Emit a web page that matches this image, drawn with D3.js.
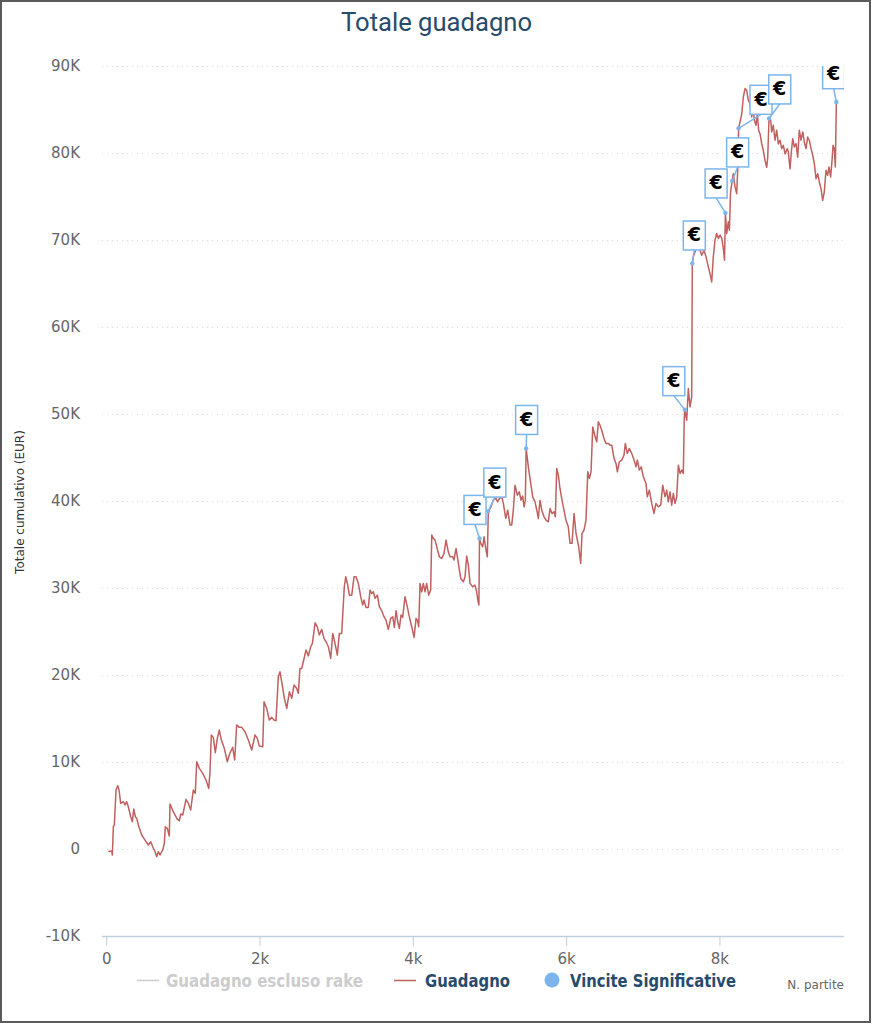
<!DOCTYPE html>
<html>
<head>
<meta charset="utf-8">
<script src="https://cdn.jsdelivr.net/npm/d3@7"></script>
<style>
  body { margin: 0; background: #fff; }
  text { font-family: "DejaVu Sans", sans-serif; }
</style>
</head>
<body>
<div id="my_dataviz"></div>
<script>

// cumulative profit
var games = [
  27, 72, 80, 93, 106, 128, 150, 167, 189, 223, 245, 267, 288, 320, 341, 359, 380, 398, 419, 463,
  506, 549, 581, 607, 637, 659, 680, 702, 737, 758, 771, 797, 823, 832, 875, 928, 954, 972, 998, 1041,
  1071, 1102, 1136, 1162, 1181, 1215, 1259, 1302, 1337, 1354, 1371, 1397, 1423, 1449, 1475, 1502, 1537, 1580, 1615, 1650,
  1676, 1702, 1736, 1768, 1811, 1854, 1898, 1941, 1971, 1997, 2042, 2059, 2094, 2128, 2159, 2189, 2215, 2245, 2267, 2293,
  2324, 2355, 2389, 2420, 2450, 2485, 2506, 2528, 2550, 2571, 2607, 2637, 2668, 2690, 2725, 2754, 2780, 2811, 2841, 2868,
  2898, 2929, 2955, 2985, 3015, 3041, 3072, 3106, 3125, 3151, 3172, 3203, 3233, 3259, 3289, 3320, 3346, 3363, 3389, 3419,
  3442, 3464, 3485, 3507, 3537, 3563, 3594, 3624, 3650, 3680, 3712, 3738, 3759, 3781, 3803, 3824, 3846, 3868, 3898, 3928,
  3954, 3986, 4016, 4042, 4059, 4077, 4094, 4116, 4137, 4159, 4181, 4207, 4233, 4247, 4267, 4290, 4312, 4346, 4377, 4407,
  4433, 4463, 4485, 4520, 4537, 4564, 4594, 4625, 4659, 4681, 4703, 4724, 4746, 4781, 4811, 4833, 4850, 4862, 4870, 4886,
  4912, 4929, 4955, 4972, 4985, 5020, 5050, 5085, 5107, 5128, 5160, 5181, 5212, 5238, 5268, 5290, 5311, 5333, 5363, 5389,
  5411, 5433, 5451, 5468, 5478, 5507, 5538, 5564, 5594, 5617, 5637, 5659, 5682, 5712, 5738, 5768, 5790, 5816, 5842, 5859,
  5877, 5898, 5920, 5946, 5972, 5998, 6028, 6051, 6077, 6103, 6129, 6164, 6190, 6207, 6233, 6259, 6282, 6303, 6325, 6347,
  6373, 6399, 6420, 6442, 6464, 6494, 6520, 6550, 6573, 6595, 6625, 6651, 6668, 6694, 6725, 6755, 6772, 6798, 6824, 6856,
  6886, 6912, 6929, 6955, 6980, 7007, 7042, 7059, 7085, 7116, 7146, 7172, 7203, 7234, 7260, 7290, 7312, 7333, 7355, 7377,
  7398, 7420, 7443, 7464, 7486, 7508, 7529, 7540, 7548, 7573, 7594, 7616, 7638, 7646, 7659, 7681, 7703, 7738, 7769, 7799,
  7825, 7855, 7877, 7899, 7920, 7942, 7965, 7986, 8008, 8030, 8051, 8066, 8078, 8095, 8116, 8130, 8145, 8167, 8181, 8203,
  8225, 8240, 8250, 8291, 8312, 8334, 8356, 8377, 8399, 8421, 8442, 8455, 8477, 8494, 8512, 8530, 8552, 8573, 8595, 8617,
  8630, 8647, 8669, 8682, 8703, 8725, 8747, 8768, 8790, 8812, 8834, 8856, 8886, 8899, 8921, 8938, 8956, 8977, 8999, 9021,
  9042, 9064, 9087, 9107, 9129, 9151, 9172, 9195, 9217, 9238, 9260, 9282, 9303, 9325, 9347, 9368, 9390, 9412, 9429, 9451,
  9469, 9482, 9499, 9512, 9525
];
var profit = [
  -300, -230, -700, 2560, 2760, 6780, 7270, 6780, 5250, 5440, 5060, 5440, 4860, 3710, 3140, 4600, 3710, 3520, 2760, 1610,
  1030, 460, 840, 260, -310, -880, -310, -690, -110, 650, 2560, 2370, 1490, 5170, 4290, 3410, 3250, 4020, 3910, 5710,
  5250, 4480, 6780, 6400, 10030, 9270, 8700, 7930, 6970, 8880, 13100, 12830, 11060, 12720, 13670, 12520, 11680, 10030, 11060, 11680,
  10230, 14250, 13980, 13980, 13480, 12520, 11370, 13100, 12720, 11830, 11750, 16920, 16160, 14820, 15130, 14820, 14740, 19800, 20370, 19040,
  17320, 16160, 18070, 17320, 18840, 18460, 17890, 20760, 20760, 21520, 22870, 22200, 23250, 23630, 26000, 25540, 24590, 25240, 24210, 23820,
  23250, 21910, 24780, 23630, 22290, 24780, 24780, 30140, 31290, 30330, 29180, 29180, 31290, 31290, 30530, 29000, 28040, 28610, 27770, 27770,
  29760, 29380, 29570, 28800, 29180, 27850, 27390, 26700, 26310, 25240, 26510, 26700, 25470, 27390, 26120, 25360, 26890, 26620, 29000, 27850,
  26700, 25540, 24320, 26510, 26310, 25540, 30530, 29570, 30530, 29570, 30530, 29180, 29760, 36080, 35700, 35510, 34740, 33590, 33400, 33970,
  35510, 34160, 33590, 33590, 33210, 34550, 32830, 31100, 30720, 31290, 33670, 32630, 30530, 30140, 30330, 29570, 28500, 28040, 35700, 35130,
  34740, 35890, 34360, 33590, 38840, 39330, 40100, 40300, 39900, 40280, 40480, 39720, 38000, 38950, 37230, 37230, 38950, 41820, 40670, 41050,
  40100, 40560, 39330, 40100, 46040, 43930, 42020, 40480, 39900, 38950, 38000, 40100, 38950, 38180, 37800, 37610, 39140, 38570, 38760, 38180,
  43740, 42970, 41440, 40100, 38950, 37800, 37030, 35130, 35130, 38570, 36270, 34740, 32830, 36270, 36650, 37800, 43350, 42590, 43350, 48520,
  47560, 46800, 49100, 48710, 48140, 47180, 46610, 46610, 46420, 46420, 44890, 44320, 43350, 44500, 44700, 45270, 46610, 45460, 46040, 45460,
  44700, 43930, 44700, 43550, 43930, 42780, 42020, 40480, 41250, 39720, 38570, 39720, 39330, 39520, 41820, 40480, 41250, 39900, 41060, 39520,
  40870, 39720, 40480, 44120, 43170, 43550, 43170, 49290, 50500, 49290, 52930, 50820, 51970, 67300, 68060, 68630, 69210, 69020, 68250, 68820,
  68060, 66910, 66140, 65180, 68060, 69980, 70750, 70180, 70560, 70180, 69020, 67680, 73110, 70750, 72090, 71120, 75520, 76790, 77620, 76100,
  75330, 78400, 82840, 84480, 86440, 87400, 87200, 86060, 85670, 84150, 85290, 83760, 83190, 84480, 82570, 82190, 81040, 80270, 79120, 78360,
  79510, 83960, 83760, 82420, 83190, 81470, 82620, 81040, 81470, 80500, 80880, 79900, 80500, 80120, 78180, 80120, 81650, 80690, 81080, 79510,
  82620, 81470, 82420, 81270, 80500, 81840, 81470, 80500, 79740, 78780, 77050, 77620, 76670, 75900, 74560, 75520, 78020, 77430, 78400, 77240,
  79160, 80880, 80500, 78400, 85860
];

// "Vincite Significative" flags sit on the Guadagno series at these games
var flagGames = [4870, 4985, 5478, 7548, 7646, 8078, 8167, 8250, 8647, 9525];
var flagText = "€";

var xTicks = [0, 2000, 4000, 6000, 8000];
var yTicks = [-10000, 0, 10000, 20000, 30000, 40000, 50000, 60000, 70000, 80000, 90000];

var legendNames = ["Guadagno escluso rake", "Guadagno", "Vincite Significative"];

// where each flag box ends up relative to its point (px), as the chart stacked them
var flagOffsets = [[-4.5, -14], [6.5, -14], [0.5, -14], [-11, -14], [2, -13.5],
                   [-9.3, -15], [5.4, -14], [22.4, -14], [10.7, -14.6], [-2.7, -13.3]];

var W = 873, H = 1024;
var margin = {top: 66, right: 29, bottom: 88, left: 102},
  width = W - margin.left - margin.right,
  height = H - margin.top - margin.bottom;

var lineColor = "#c0605f", flagColor = "#7cb5ec", titleColor = "#274b6d";

var root = d3.select("#my_dataviz")
  .append("svg")
    .attr("width", W)
    .attr("height", H);

// outer frame
root.append("rect")
  .attr("x", 1).attr("y", 1)
  .attr("width", W - 4).attr("height", H - 3)
  .attr("fill", "#fff")
  .attr("stroke", "#5a5a5a")
  .attr("stroke-width", 2);

var svg = root.append("g")
  .attr("transform", "translate(" + margin.left + "," + margin.top + ")");

var x = d3.scaleLinear().domain([-55, 9625]).range([0, width]);
var y = d3.scaleLinear().domain([-10000, 90000]).range([height, 0]);

// grid lines (dotted)
svg.append("g")
  .selectAll("line")
  .data(yTicks.filter(function(d) { return d > -10000; }))
  .enter().append("line")
    .attr("x1", 0).attr("x2", width)
    .attr("y1", function(d) { return Math.round(y(d)) + 0.5; })
    .attr("y2", function(d) { return Math.round(y(d)) + 0.5; })
    .attr("stroke", "#d8d8d8")
    .attr("stroke-dasharray", "1,4");

// y axis
var yAxis = svg.append("g")
  .call(d3.axisLeft(y).tickValues(yTicks).tickSize(0).tickPadding(22)
    .tickFormat(function(d) { return d === 0 ? "0" : (d / 1000) + "K"; }));
yAxis.select(".domain").remove();
yAxis.selectAll("text")
  .style("font-size", "15px")
  .attr("fill", "#666");

// x axis
var xAxis = svg.append("g")
  .attr("transform", "translate(0," + height + ")")
  .call(d3.axisBottom(x).tickValues(xTicks).tickSize(10).tickPadding(7)
    .tickFormat(function(d) { return d === 0 ? "0" : (d / 1000) + "k"; }));
xAxis.select(".domain").attr("stroke", "#c0d0e0").attr("stroke-width", 1.5)
  .attr("d", "M0,0.5H" + width);
xAxis.selectAll("line").attr("stroke", "#c0d0e0");
xAxis.selectAll("text")
  .style("font-size", "15px")
  .attr("fill", "#666");

// clip for the series and flags
svg.append("clipPath").attr("id", "plotclip")
  .append("rect").attr("x", 0).attr("y", 0).attr("width", width).attr("height", height);

var data = games.map(function(g, i) { return {g: g, v: profit[i]}; });

var plot = svg.append("g").attr("clip-path", "url(#plotclip)");

plot.append("path")
  .datum(data)
  .attr("fill", "none")
  .attr("stroke", lineColor)
  .attr("stroke-width", 1.5)
  .attr("stroke-linejoin", "round")
  .attr("d", d3.line()
    .x(function(d) { return x(d.g); })
    .y(function(d) { return y(d.v); }));

// flags on series
var bis = d3.bisector(function(d) { return d.g; }).left;
var flags = flagGames.map(function(g, i) {
  var d = data[Math.min(bis(data, g), data.length - 1)];
  return {g: g, v: d.v, dx: flagOffsets[i][0], dy: flagOffsets[i][1]};
});

var bw = 22, bh = 29;
var fg = plot.selectAll(".flag")
  .data(flags)
  .enter().append("g")
    .attr("class", "flag");

fg.append("line")
  .attr("x1", function(d) { return x(d.g); })
  .attr("y1", function(d) { return y(d.v); })
  .attr("x2", function(d) { return x(d.g) + d.dx; })
  .attr("y2", function(d) { return y(d.v) + d.dy; })
  .attr("stroke", flagColor)
  .attr("stroke-width", 1.5);

fg.append("circle")
  .attr("cx", function(d) { return x(d.g); })
  .attr("cy", function(d) { return y(d.v); })
  .attr("r", 2.2)
  .attr("fill", flagColor);

fg.append("rect")
  .attr("x", function(d) { return x(d.g) + d.dx - bw / 2; })
  .attr("y", function(d) { return y(d.v) + d.dy - bh; })
  .attr("width", bw).attr("height", bh)
  .attr("fill", "#fff")
  .attr("stroke", flagColor)
  .attr("stroke-width", 1.5);

fg.append("text")
  .attr("x", function(d) { return x(d.g) + d.dx; })
  .attr("y", function(d) { return y(d.v) + d.dy - 8.5; })
  .attr("text-anchor", "middle")
  .style("font-size", "19px")
  .style("font-weight", "bold")
  .attr("fill", "#000")
  .text(flagText);

// title
root.append("text")
  .attr("x", 341)
  .attr("y", 31)
  .attr("textLength", 191)
  .attr("lengthAdjust", "spacingAndGlyphs")
  .style("font-family", "Roboto, sans-serif")
  .style("font-size", "25px")
  .attr("fill", titleColor)
  .text("Totale guadagno");

// y axis title
root.append("text")
  .attr("transform", "translate(24,502) rotate(-90)")
  .attr("text-anchor", "middle")
  .style("font-size", "12px")
  .attr("fill", "#333")
  .text("Totale cumulativo (EUR)");

// x axis title
root.append("text")
  .attr("x", 844)
  .attr("y", 989)
  .attr("text-anchor", "end")
  .style("font-size", "12px")
  .attr("fill", "#666")
  .text("N. partite");

// legend
var legend = root.append("g").style("font-family", "Roboto, sans-serif");
var legX = [166, 425, 570], legW = [197, 85, 166];
legend.append("line").attr("x1", 137).attr("x2", 159).attr("y1", 980.5).attr("y2", 980.5)
  .attr("stroke", "#ccc").attr("stroke-width", 1.5);
legend.append("line").attr("x1", 394).attr("x2", 416).attr("y1", 980.5).attr("y2", 980.5)
  .attr("stroke", lineColor).attr("stroke-width", 1.5);
legend.append("circle").attr("cx", 552).attr("cy", 980).attr("r", 7.5).attr("fill", flagColor);
legend.selectAll("text.leg")
  .data(legendNames)
  .enter().append("text")
    .attr("class", "leg")
    .attr("x", function(d, i) { return legX[i]; })
    .attr("y", 987)
    .attr("textLength", function(d, i) { return legW[i]; })
    .attr("lengthAdjust", "spacingAndGlyphs")
    .style("font-size", "18px")
    .style("font-weight", "bold")
    .attr("fill", function(d, i) { return i === 0 ? "#cccccc" : titleColor; })
    .text(function(d) { return d; });

</script>
</body>
</html>
